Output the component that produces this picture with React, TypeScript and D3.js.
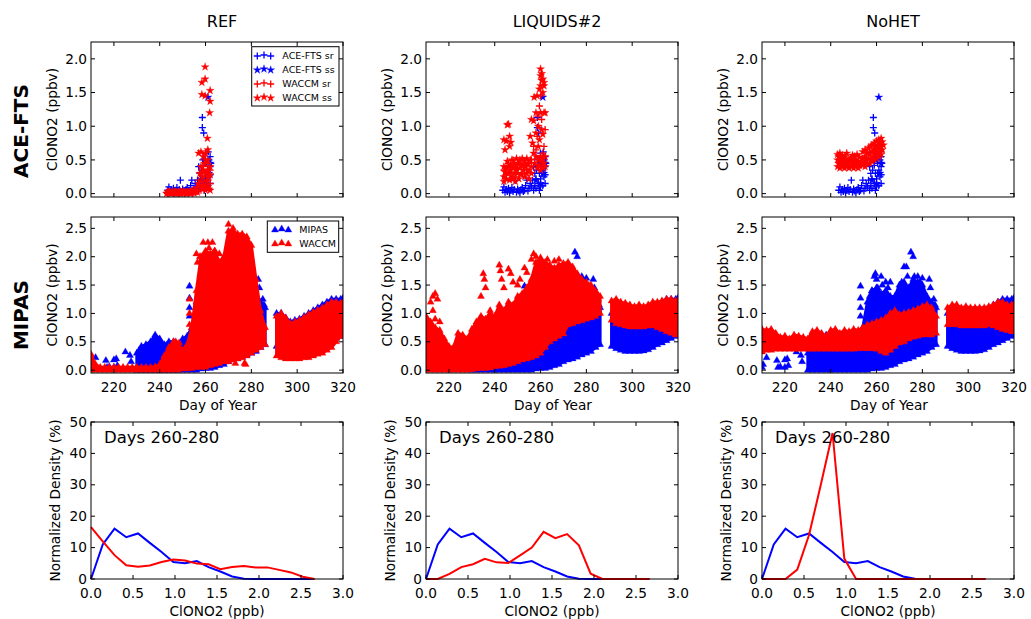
import React from 'react';
import * as d3 from 'd3';

const FONT = 'DejaVu Sans, Verdana, sans-serif';
const BLUE = '#0000ff';
const RED = '#ff0000';

// layout of the 3x3 grid
const COL_LEFT = [91, 426, 762];
const PW = 252;
const ROW_TOP = [42, 217, 422];
const ROW_H = [155, 156, 157];

const columnTitles = ['REF', 'LIQUIDS#2', 'NoHET'];
const rowTitles = ['ACE-FTS', 'MIPAS'];
const dayTicks = [220, 240, 260, 280, 300, 320];
const aceTicks = [0, 0.5, 1, 1.5, 2];
const mipasTicks = [0, 0.5, 1, 1.5, 2, 2.5];
const densYTicks = [0, 10, 20, 30, 40, 50];
const densXTicks = [0, 0.5, 1, 1.5, 2, 2.5, 3];

type Pt = [number, number];
type Rng = [number, number, number];

// ---- ACE-FTS observations (same in every column) [day, ppbv]
const aceSr: Pt[] = [
  [243.5, 0.05], [244, 0.1], [244.5, 0.02], [245, 0.06], [245.5, 0.03], [246, 0.08], [246.5, 0.01], [247, 0.05],
  [247.5, 0.09], [248, 0.03], [248.5, 0.06], [249, 0.2], [249.5, 0.02], [250, 0.07], [250.5, 0.04], [251, 0.01],
  [251.5, 0.06], [252, 0.09], [252.5, 0.03], [253, 0.05], [253.5, 0.12], [254, 0.2], [254.5, 0.04], [255, 0.08],
  [255.5, 0.15], [256, 0.1], [256.5, 0.2], [257, 0.4], [257, 0.05], [257.5, 0.3], [257.5, 0.12], [258, 0.22],
  [258, 0.08], [258.3, 0.35], [258.6, 1.13], [258.6, 0.98], [258.8, 0.5], [259, 0.42], [259, 0.15], [259.2, 0.9],
  [259.5, 0.3], [259.5, 0.05], [260, 0.6], [260, 0.22], [260, 0.1], [260.5, 0.45], [260.5, 0.3], [261, 0.35],
  [261, 0.12], [261.2, 0.62], [261.5, 0.25], [261.5, 0.5], [262, 0.55], [262, 0.4], [262, 0.28], [262, 0.15],
  [262.3, 0.45],
];
const aceSs: Pt[] = [[261, 1.43], [259.5, 0.5], [261.5, 0.3], [262, 0.45], [260, 0.15], [258, 0.2]];

// ---- WACCM sampled like ACE-FTS
const refSr: Pt[] = [
  [243, 0.02], [243.5, 0.0], [244, 0.03], [244.5, 0.01], [245, 0.02], [245.5, 0.04], [246, 0.0], [246.5, 0.02],
  [247, 0.03], [247.5, 0.01], [248, 0.02], [248.5, 0.0], [249, 0.03], [249.5, 0.01], [250, 0.02], [250.5, 0.04],
  [251, 0.0], [251.5, 0.02], [252, 0.03], [252.5, 0.01], [253, 0.02], [253.5, 0.04], [254, 0.03], [254.5, 0.01],
  [255, 0.05], [255.5, 0.02], [256, 0.1], [256.5, 0.04], [257, 0.2], [257.5, 0.12], [258, 0.3], [258, 0.05],
  [258.5, 0.18], [259, 0.4], [259, 0.08], [259.5, 0.25], [260, 0.5], [260, 0.12], [260.5, 0.3], [261, 0.2],
  [261, 0.45], [261.5, 0.08], [262, 0.35], [262, 0.15],
];
const refSs: Pt[] = [
  [243, 0.0], [243.5, 0.03], [244, 0.01], [244.5, 0.02], [245, 0.0], [245.5, 0.02], [246, 0.01], [246.5, 0.03],
  [247, 0.0], [247.5, 0.02], [248, 0.01], [248.5, 0.03], [249, 0.0], [249.5, 0.02], [250, 0.01], [250.5, 0.03],
  [251, 0.02], [251.5, 0.0], [252, 0.02], [252.5, 0.01], [253, 0.03], [253.5, 0.0], [254, 0.02], [254.5, 0.04],
  [255, 0.01], [255.5, 0.03], [256, 0.05], [256.5, 0.02], [257, 0.6], [257, 0.15], [257.5, 0.3], [258, 0.62],
  [258, 0.4], [258, 0.08], [258.4, 1.65], [258.4, 1.47], [258.6, 0.25], [259, 0.55], [259, 0.35], [259, 0.12],
  [259.5, 0.45], [259.8, 1.88], [259.8, 1.7], [259.8, 1.45], [260, 0.6], [260, 0.3], [260, 0.05], [260.5, 0.18],
  [260.8, 0.82], [261, 0.65], [261, 0.5], [261, 0.35], [261, 0.1], [261.5, 0.25], [261.8, 1.2], [262, 1.53],
  [262, 1.37], [262, 0.4], [262, 0.28], [262, 0.05],
];
const liqSr: Pt[] = [
  [244, 0.35], [245, 0.28], [246, 0.45], [247, 0.3], [248, 0.5], [249, 0.25], [250, 0.38], [251, 0.45], [252, 0.3],
  [253, 0.42], [254, 0.35], [255, 0.45], [256, 0.5], [257, 0.7], [258, 0.65], [258.5, 0.85], [259, 1.15],
  [259.5, 1.3], [260, 1.45], [260.5, 1.1], [261, 0.6], [261.5, 0.7], [262, 0.95],
];
const liqSs: Pt[] = [
  [244, 0.8], [244.5, 0.65], [245, 0.78], [245.5, 1.02], [246, 1.03], [246.5, 0.85], [246.5, 0.7], [247, 0.76],
  [244, 0.4], [244, 0.25], [244, 0.18], [244.5, 0.32], [245, 0.38], [245, 0.22], [245.5, 0.48], [246, 0.4],
  [246, 0.3], [246.5, 0.2], [247, 0.42], [247, 0.35], [247.5, 0.5], [247.5, 0.25], [248, 0.38], [248, 0.22],
  [248.5, 0.45], [248.5, 0.3], [249, 0.4], [249, 0.18], [249.5, 0.52], [249.5, 0.35], [250, 0.3], [250, 0.45],
  [250.5, 0.22], [251, 0.5], [251, 0.38], [251.5, 0.28], [252, 0.42], [252, 0.52], [252.5, 0.35], [253, 0.25],
  [253, 0.48], [253.5, 0.4], [254, 0.52], [254, 0.3], [254.5, 0.45], [255, 0.35], [255, 0.22], [255.5, 0.5],
  [256, 0.4], [256, 0.3], [255.5, 0.85], [256, 1.1], [256.5, 0.75], [257, 1.08], [257, 0.6], [257.2, 1.43],
  [257.5, 0.45], [258, 1.2], [258, 0.9], [258, 0.55], [258.5, 0.38], [258.5, 1.45], [259, 0.7], [259, 1.0],
  [259, 0.5], [259.5, 1.55], [259.5, 0.8], [259.5, 0.42], [260, 1.85], [260, 1.75], [260, 1.6], [260, 1.2],
  [260, 0.55], [260, 0.35], [260.5, 1.78], [260.5, 1.68], [260.5, 0.95], [260.5, 0.48], [261, 1.7], [261, 1.5],
  [261, 0.88], [261, 0.52], [261, 0.38], [261.5, 1.6], [261.5, 1.65], [261.5, 1.2], [261.5, 0.45], [262, 1.2],
  [262, 0.55], [262, 0.4],
];
const nohetSr: Pt[] = [
  [244, 0.45], [246, 0.52], [248, 0.42], [250, 0.5], [252, 0.45], [255, 0.5], [257, 0.62], [259, 0.6], [261, 0.7],
  [262, 0.62],
];
const nohetSs: Pt[] = [
  [243, 0.4], [243, 0.5], [243, 0.58], [243.5, 0.45], [243.5, 0.55], [244, 0.38], [244, 0.48], [244, 0.6],
  [244.5, 0.42], [244.5, 0.53], [245, 0.4], [245, 0.5], [245, 0.57], [245.5, 0.45], [246, 0.38], [246, 0.48],
  [246, 0.55], [246.5, 0.42], [247, 0.4], [247, 0.5], [247, 0.6], [247.5, 0.45], [248, 0.38], [248, 0.48],
  [248.5, 0.53], [249, 0.4], [249, 0.5], [249.5, 0.45], [249.5, 0.57], [250, 0.38], [250, 0.48], [250.5, 0.42],
  [250.5, 0.55], [251, 0.4], [251, 0.5], [251.5, 0.45], [251.5, 0.58], [252, 0.38], [252, 0.48], [252.5, 0.42],
  [252.5, 0.54], [253, 0.45], [254, 0.42], [254, 0.52], [254, 0.62], [254.5, 0.47], [255, 0.4], [255, 0.55],
  [255, 0.65], [255.5, 0.5], [256, 0.45], [256, 0.6], [256.5, 0.52], [256.5, 0.68], [257, 0.45], [257, 0.58],
  [257.5, 0.5], [257.5, 0.7], [258, 0.48], [258, 0.62], [258, 0.72], [258.5, 0.55], [259, 0.5], [259, 0.65],
  [259, 0.75], [259.5, 0.58], [259.5, 0.7], [260, 0.52], [260, 0.65], [260, 0.78], [260.5, 0.6], [260.5, 0.72],
  [261, 0.55], [261, 0.68], [261, 0.8], [261.5, 0.62], [261.5, 0.75], [262, 0.58], [262, 0.7], [262, 0.82],
  [262.5, 0.65], [262.5, 0.77], [263, 0.72],
];

// ---- MIPAS observations: daily spread [day, low, high] plus isolated points
const mipasBand: Rng[] = [
  [230, 0.0, 0.3], [232, 0.0, 0.42], [234, 0.0, 0.45], [236, 0.0, 0.5], [238, 0.0, 0.62], [240, 0.0, 0.55],
  [242, 0.0, 0.45], [244, 0.0, 0.5], [246, 0.0, 0.5], [248, 0.0, 0.45], [250, 0.0, 0.55], [252, 0.0, 0.6],
  [254, 0.0, 0.75], [256, 0.0, 1.2], [258, 0.02, 1.4], [260, 0.03, 1.45], [262, 0.03, 1.35], [264, 0.05, 1.4],
  [266, 0.08, 1.3], [268, 0.1, 1.3], [270, 0.15, 1.5], [272, 0.18, 1.55], [274, 0.2, 1.45], [276, 0.23, 1.6],
  [278, 0.27, 1.55], [280, 0.3, 1.5], [282, 0.33, 1.3], [284, 0.4, 1.2], [286, 0.45, 1.1],
  [291, 0.42, 1.0], [293, 0.38, 1.0], [295, 0.35, 0.92], [297, 0.33, 0.85], [299, 0.33, 0.88], [301, 0.33, 0.9],
  [303, 0.33, 0.95], [305, 0.34, 1.0], [307, 0.36, 1.05], [309, 0.4, 1.1], [311, 0.45, 1.15], [313, 0.48, 1.2],
  [315, 0.52, 1.25], [317, 0.56, 1.25], [319, 0.6, 1.25], [320, 0.6, 1.27],
];
const mipasPts: Pt[] = [
  [210, 0.05], [210.5, 0.1], [212, 0.22], [216.5, 0.17], [217, 0.05], [218, 0.06], [220, 0.18], [220, 0.05],
  [221, 0.2], [221.5, 0.08], [225, 0.32], [227, 0.26], [227.5, 0.15], [231, 0.35], [253, 1.48], [253, 1.27],
  [253, 1.1], [253, 0.95], [257, 1.3], [257.5, 1.2], [258, 1.4], [259, 1.65], [259.5, 1.7], [260, 1.6],
  [260.5, 1.45], [262, 1.65], [262.5, 1.5], [264, 1.55], [265, 1.45], [266, 1.55], [271, 1.55], [271.5, 1.45],
  [272, 1.82], [273, 1.82], [273.5, 1.65], [275, 2.08], [276, 2.0], [276.5, 1.65], [278, 1.65], [279, 1.55],
  [280, 1.62], [283, 1.6], [283.5, 1.45], [285, 1.25], [285.5, 1.15],
];

// ---- WACCM sampled like MIPAS
const refBand: Rng[] = [
  [210, 0, 0.28], [212, 0, 0.1], [214, 0, 0.05], [216, 0, 0.05], [218, 0, 0.05], [220, 0, 0.05], [222, 0, 0.05],
  [224, 0, 0.05], [226, 0, 0.05], [228, 0, 0.05], [230, 0, 0.05], [232, 0, 0.05], [234, 0, 0.05], [236, 0, 0.05],
  [238, 0, 0.06], [240, 0, 0.1], [242, 0, 0.25], [244, 0, 0.4], [246, 0, 0.48], [248, 0, 0.45], [250, 0.02, 0.35],
  [252, 0.02, 0.45], [254, 0.03, 0.75], [256, 0.05, 1.4], [258, 0.05, 2.0], [260, 0.05, 2.1], [262, 0.08, 2.05],
  [264, 0.1, 2.1], [266, 0.12, 1.9], [268, 0.15, 2.0], [270, 0.15, 2.45], [272, 0.18, 2.45], [274, 0.2, 2.4],
  [276, 0.22, 2.4], [278, 0.25, 2.35], [280, 0.3, 2.2], [282, 0.35, 1.6], [284, 0.4, 1.05], [286, 0.45, 0.75],
  [291, 0.25, 0.95], [293, 0.22, 1.0], [295, 0.2, 0.92], [297, 0.2, 0.82], [299, 0.2, 0.85], [301, 0.2, 0.88],
  [303, 0.22, 0.93], [305, 0.22, 0.98], [307, 0.25, 1.02], [309, 0.28, 1.06], [311, 0.3, 1.1], [313, 0.35, 1.15],
  [315, 0.4, 1.2], [317, 0.5, 1.2], [319, 0.6, 1.18], [320, 0.6, 1.18],
];
const refPts: Pt[] = [
  [246, 0.5], [247, 0.5], [248.5, 0.48], [253, 1.25], [253, 1.0], [253, 0.8], [256, 2.05], [256.5, 1.9],
  [257.5, 2.0], [259, 2.25], [261, 2.25], [261.5, 2.15], [263, 2.25], [264, 2.1], [266, 2.05], [270, 2.57],
  [272, 2.5], [277, 0.12], [277.5, 0.1], [273, 0.12],
];
const liqBand: Rng[] = [
  [210, 0, 0.95], [212, 0, 0.85], [214, 0, 0.75], [216, 0, 0.7], [218, 0, 0.55], [220, 0, 0.42], [222, 0, 0.4],
  [224, 0, 0.65], [226, 0, 0.62], [228, 0, 0.55], [230, 0.01, 0.72], [232, 0.02, 0.85], [234, 0.03, 0.95],
  [236, 0.03, 0.9], [238, 0.04, 1.0], [240, 0.06, 0.95], [242, 0.07, 1.15], [244, 0.08, 1.05], [246, 0.1, 1.2],
  [248, 0.12, 1.15], [250, 0.15, 1.3], [252, 0.18, 1.35], [254, 0.2, 1.45], [256, 0.22, 1.6], [258, 0.25, 1.9],
  [260, 0.3, 1.95], [262, 0.4, 1.9], [264, 0.5, 1.85], [266, 0.55, 1.8], [268, 0.6, 1.85], [270, 0.64, 1.88],
  [272, 0.8, 1.9], [274, 0.82, 1.82], [276, 0.85, 1.7], [278, 0.87, 1.6], [280, 0.9, 1.55], [282, 0.92, 1.5],
  [284, 0.95, 1.4], [286, 1.0, 1.3],
  [291, 0.88, 1.22], [293, 0.82, 1.25], [295, 0.8, 1.2], [297, 0.78, 1.18], [299, 0.76, 1.15], [301, 0.76, 1.12],
  [303, 0.76, 1.15], [305, 0.76, 1.12], [307, 0.78, 1.15], [309, 0.78, 1.2], [311, 0.75, 1.2], [313, 0.72, 1.22],
  [315, 0.68, 1.25], [317, 0.65, 1.25], [319, 0.62, 1.22], [320, 0.62, 1.22],
];
const liqPts: Pt[] = [
  [212, 1.2], [213, 1.3], [214, 1.35], [215, 1.25], [213, 1.05], [214, 0.9], [216, 0.85], [235, 1.7],
  [235.5, 1.6], [236, 1.45], [234, 1.3], [238, 1.05], [242, 1.85], [242.5, 1.75], [243, 1.6], [244, 1.45],
  [246, 1.78], [247, 1.7], [248, 1.55], [250, 1.5], [251, 1.6], [253, 1.8], [254, 1.72], [256, 1.95],
  [257, 2.05], [258, 2.0], [260, 1.98], [263, 1.95], [266, 1.92], [268, 1.95],
];
const nohetBand: Rng[] = [
  [210, 0.32, 0.72], [212, 0.35, 0.7], [214, 0.35, 0.72], [216, 0.37, 0.65], [218, 0.37, 0.58], [220, 0.37, 0.6],
  [222, 0.37, 0.55], [224, 0.37, 0.62], [226, 0.37, 0.6], [228, 0.37, 0.58], [230, 0.37, 0.55], [232, 0.37, 0.68],
  [234, 0.37, 0.7], [236, 0.37, 0.65], [238, 0.37, 0.6], [240, 0.37, 0.7], [242, 0.37, 0.72], [244, 0.37, 0.65],
  [246, 0.37, 0.7], [248, 0.37, 0.68], [250, 0.37, 0.72], [252, 0.38, 0.7], [254, 0.38, 0.75], [256, 0.38, 0.8],
  [258, 0.38, 0.82], [260, 0.37, 0.85], [262, 0.33, 0.88], [264, 0.3, 0.92], [266, 0.35, 1.0], [268, 0.42, 1.05],
  [270, 0.48, 0.98], [272, 0.5, 1.0], [274, 0.55, 1.02], [276, 0.58, 1.05], [278, 0.6, 1.08], [280, 0.62, 1.12],
  [282, 0.62, 1.15], [284, 0.62, 1.1], [286, 0.65, 0.95],
  [291, 0.8, 1.1], [293, 0.8, 1.15], [295, 0.8, 1.15], [297, 0.78, 1.1], [299, 0.78, 1.12], [301, 0.78, 1.1],
  [303, 0.78, 1.1], [305, 0.78, 1.1], [307, 0.78, 1.1], [309, 0.8, 1.12], [311, 0.78, 1.15], [313, 0.75, 1.2],
  [315, 0.72, 1.2], [317, 0.7, 1.15], [319, 0.68, 1.15], [320, 0.68, 1.15],
];
const nohetPts: Pt[] = [];

// ---- normalized density, days 260-280
const densityBins = [0, 0.14, 0.28, 0.42, 0.56, 0.7, 0.84, 0.98, 1.12, 1.26, 1.4, 1.54, 1.68, 1.82, 1.96, 2.1, 2.24, 2.38, 2.52, 2.66];
const mipasDensity = [0, 11, 16, 13.3, 14.5, 11.5, 8.6, 5.4, 5.0, 5.7, 3.8, 2.4, 0.8, 0.1, 0, 0, 0, 0, 0, 0];
const refDensity = [16.5, 12, 7.6, 4.4, 3.9, 4.3, 5.4, 6.2, 5.9, 4.9, 4.7, 3.1, 3.8, 4.1, 3.7, 3.7, 2.9, 2.1, 0.7, 0];
const liqDensity = [0, 0, 1.6, 3.8, 4.7, 6.4, 5.3, 5.1, 7.5, 10, 15, 13, 14.3, 10.7, 1.7, 0, 0, 0, 0, 0];
const nohetDensity = [0, 0, 0, 3, 14, 30, 46.5, 6.5, 0, 0, 0, 0, 0, 0, 0, 0, 0, 0, 0, 0];

const aceModel = [
  { sr: refSr, ss: refSs },
  { sr: liqSr, ss: liqSs },
  { sr: nohetSr, ss: nohetSs },
];
const mipasModel = [
  { band: refBand, pts: refPts },
  { band: liqBand, pts: liqPts },
  { band: nohetBand, pts: nohetPts },
];
const densModel = [refDensity, liqDensity, nohetDensity];

const triPath = d3.symbol().type(d3.symbolTriangle).size(22)() as string;
const starPath = d3.symbol().type(d3.symbolStar).size(20)() as string;
const plusPath = 'M-3.5,0H3.5M0,-3.5V3.5';

type Kind = 'plus' | 'star' | 'tri';

function Marker({ cx, cy, kind, color }: { cx: number; cy: number; kind: Kind; color: string }) {
  const d = kind === 'plus' ? plusPath : kind === 'star' ? starPath : triPath;
  return (
    <path
      transform={`translate(${cx},${cy})`}
      d={d}
      fill={kind === 'plus' ? 'none' : color}
      stroke={color}
      strokeWidth={kind === 'plus' ? 1.3 : 0.3}
    />
  );
}

function Marks({ pts, x, y, kind, color }: { pts: Pt[]; x: any; y: any; kind: Kind; color: string }) {
  return (
    <g>
      {pts.map((p, i) => (
        <Marker key={i} cx={x(p[0])} cy={y(p[1])} kind={kind} color={color} />
      ))}
    </g>
  );
}

// dense cloud of triangles: filled daily spread, with triangles on its edges
function Band({ data, x, y, color }: { data: Rng[]; x: any; y: any; color: string }) {
  const segs: Rng[][] = [];
  data.forEach((d, i) => {
    if (i === 0 || d[0] - data[i - 1][0] > 3) segs.push([]);
    segs[segs.length - 1].push(d);
  });
  const area = d3
    .area<Rng>()
    .x((d) => x(d[0]))
    .y0((d) => y(d[1]))
    .y1((d) => y(d[2]));
  return (
    <g>
      {segs.map((s, i) => (
        <path key={i} d={area(s) || ''} fill={color} stroke={color} strokeWidth={3} strokeLinejoin="round" />
      ))}
      {data.map((d, i) => (
        <g key={'e' + i}>
          <Marker cx={x(d[0])} cy={y(d[2])} kind="tri" color={color} />
          <Marker cx={x(d[0])} cy={y(d[1])} kind="tri" color={color} />
        </g>
      ))}
    </g>
  );
}

function Frame({
  left, top, w, h, x, y, xTicks, yTicks, xFmt, yFmt,
}: {
  left: number; top: number; w: number; h: number; x: any; y: any;
  xTicks: number[]; yTicks: number[]; xFmt: ((v: number) => string) | null; yFmt: (v: number) => string;
}) {
  const bottom = top + h;
  const right = left + w;
  const tl = 4;
  return (
    <g>
      <rect x={left} y={top} width={w} height={h} fill="none" stroke="#000" strokeWidth={1} />
      {xTicks.map((t) => (
        <g key={'x' + t}>
          <line x1={x(t)} x2={x(t)} y1={bottom} y2={bottom - tl} stroke="#000" />
          <line x1={x(t)} x2={x(t)} y1={top} y2={top + tl} stroke="#000" />
          {xFmt && (
            <text x={x(t)} y={bottom + 18.5} textAnchor="middle" fontSize={13.7} fontFamily={FONT}>
              {xFmt(t)}
            </text>
          )}
        </g>
      ))}
      {yTicks.map((t) => (
        <g key={'y' + t}>
          <line x1={left} x2={left + tl} y1={y(t)} y2={y(t)} stroke="#000" />
          <line x1={right} x2={right - tl} y1={y(t)} y2={y(t)} stroke="#000" />
          <text x={left - 4} y={y(t)} dy="0.34em" textAnchor="end" fontSize={13.7} fontFamily={FONT}>
            {yFmt(t)}
          </text>
        </g>
      ))}
    </g>
  );
}

function YLabel({ x, y, text }: { x: number; y: number; text: string }) {
  return (
    <text transform={`translate(${x},${y}) rotate(-90)`} dy="0.36em" textAnchor="middle" fontSize={13.7} fontFamily={FONT}>
      {text}
    </text>
  );
}

const f1 = (v: number) => v.toFixed(1);
const f0 = (v: number) => String(v);

export default function App() {
  const panels: React.ReactNode[] = [];

  COL_LEFT.forEach((L, c) => {
    const mid = L + PW / 2;
    // column title
    panels.push(
      <text key={'t' + c} x={mid + 5} y={27} textAnchor="middle" fontSize={16} fontFamily={FONT}>
        {columnTitles[c]}
      </text>
    );

    // ---- row 1: ACE-FTS
    {
      const top = ROW_TOP[0], h = ROW_H[0];
      const x = d3.scaleLinear().domain([210, 320]).range([L, L + PW]);
      const y = d3.scaleLinear().domain([-0.05, 2.25]).range([top + h, top]);
      const id = `clip-a${c}`;
      const m = aceModel[c];
      panels.push(
        <g key={'a' + c}>
          <clipPath id={id}>
            <rect x={L} y={top} width={PW} height={h} />
          </clipPath>
          <g clipPath={`url(#${id})`}>
            <Marks pts={aceSr} x={x} y={y} kind="plus" color={BLUE} />
            <Marks pts={aceSs} x={x} y={y} kind="star" color={BLUE} />
            <Marks pts={m.sr} x={x} y={y} kind="plus" color={RED} />
            <Marks pts={m.ss} x={x} y={y} kind="star" color={RED} />
          </g>
          <Frame left={L} top={top} w={PW} h={h} x={x} y={y} xTicks={dayTicks} yTicks={aceTicks} xFmt={null} yFmt={f1} />
          <YLabel x={L - 39} y={top + h / 2} text="ClONO2 (ppbv)" />
          {c === 0 && (
            <g>
              <rect x={251.7} y={46.7} width={87.3} height={59.3} fill="#fff" stroke="#000" strokeWidth={1} />
              {[
                { label: 'ACE-FTS sr', kind: 'plus' as Kind, color: BLUE },
                { label: 'ACE-FTS ss', kind: 'star' as Kind, color: BLUE },
                { label: 'WACCM sr', kind: 'plus' as Kind, color: RED },
                { label: 'WACCM ss', kind: 'star' as Kind, color: RED },
              ].map((e, i) => (
                <g key={i}>
                  {[257.3, 264, 270.7].map((mx, j) => (
                    <Marker key={j} cx={mx} cy={55.5 + i * 14 + (j === 1 ? -0.5 : 0.5)} kind={e.kind} color={e.color} />
                  ))}
                  <text x={282.3} y={55.5 + i * 14} dy="0.36em" fontSize={9.5} fontFamily={FONT}>
                    {e.label}
                  </text>
                </g>
              ))}
            </g>
          )}
        </g>
      );
    }

    // ---- row 2: MIPAS
    {
      const top = ROW_TOP[1], h = ROW_H[1];
      const x = d3.scaleLinear().domain([210, 320]).range([L, L + PW]);
      const y = d3.scaleLinear().domain([-0.05, 2.7]).range([top + h, top]);
      const id = `clip-m${c}`;
      const m = mipasModel[c];
      panels.push(
        <g key={'m' + c}>
          <clipPath id={id}>
            <rect x={L} y={top} width={PW} height={h} />
          </clipPath>
          <g clipPath={`url(#${id})`}>
            <Band data={mipasBand} x={x} y={y} color={BLUE} />
            <Marks pts={mipasPts} x={x} y={y} kind="tri" color={BLUE} />
            <Band data={m.band} x={x} y={y} color={RED} />
            <Marks pts={m.pts} x={x} y={y} kind="tri" color={RED} />
          </g>
          <Frame left={L} top={top} w={PW} h={h} x={x} y={y} xTicks={dayTicks} yTicks={mipasTicks} xFmt={f0} yFmt={f1} />
          <YLabel x={L - 39} y={top + h / 2} text="ClONO2 (ppbv)" />
          <text x={mid + 1} y={top + h + 36.5} textAnchor="middle" fontSize={13.7} fontFamily={FONT}>
            Day of Year
          </text>
          {c === 0 && (
            <g>
              <rect x={267.3} y={221} width={71.4} height={31.3} fill="#fff" stroke="#000" strokeWidth={1} />
              {[
                { label: 'MIPAS', color: BLUE },
                { label: 'WACCM', color: RED },
              ].map((e, i) => (
                <g key={i}>
                  {[275, 281.7, 288.3].map((mx, j) => (
                    <Marker key={j} cx={mx} cy={229.5 + i * 14 + (j === 1 ? -0.5 : 0.5)} kind="tri" color={e.color} />
                  ))}
                  <text x={299.3} y={229.5 + i * 14} dy="0.36em" fontSize={9.5} fontFamily={FONT}>
                    {e.label}
                  </text>
                </g>
              ))}
            </g>
          )}
        </g>
      );
    }

    // ---- row 3: density
    {
      const top = ROW_TOP[2], h = ROW_H[2];
      const x = d3.scaleLinear().domain([0, 3]).range([L, L + PW]);
      const y = d3.scaleLinear().domain([0, 50]).range([top + h, top]);
      const line = d3
        .line<number>()
        .x((_, i) => x(densityBins[i]))
        .y((d) => y(d));
      panels.push(
        <g key={'d' + c}>
          <path d={line(mipasDensity) || ''} fill="none" stroke={BLUE} strokeWidth={2} />
          <path d={line(densModel[c]) || ''} fill="none" stroke={RED} strokeWidth={2} />
          <text x={L + 13} y={443} fontSize={16.5} fontFamily={FONT}>
            Days 260-280
          </text>
          <Frame left={L} top={top} w={PW} h={h} x={x} y={y} xTicks={densXTicks} yTicks={densYTicks} xFmt={f1} yFmt={f0} />
          <YLabel x={L - 36} y={top + h / 2} text="Normalized Density (%)" />
          <text x={mid} y={top + h + 37} textAnchor="middle" fontSize={13.7} fontFamily={FONT}>
            ClONO2 (ppb)
          </text>
        </g>
      );
    }
  });

  return (
    <svg
      width={1031}
      height={619}
      style={{ position: 'absolute', left: 0, top: 0, display: 'block', background: '#fff' }}
    >
      <rect x={0} y={0} width={1031} height={619} fill="#fff" />
      {panels}
      {rowTitles.map((t, i) => (
        <text
          key={t}
          transform={`translate(21,${i === 0 ? 131 : 315}) rotate(-90)`}
          dy="0.36em"
          textAnchor="middle"
          fontSize={20}
          fontWeight="bold"
          fontFamily={FONT}
        >
          {t}
        </text>
      ))}
    </svg>
  );
}
